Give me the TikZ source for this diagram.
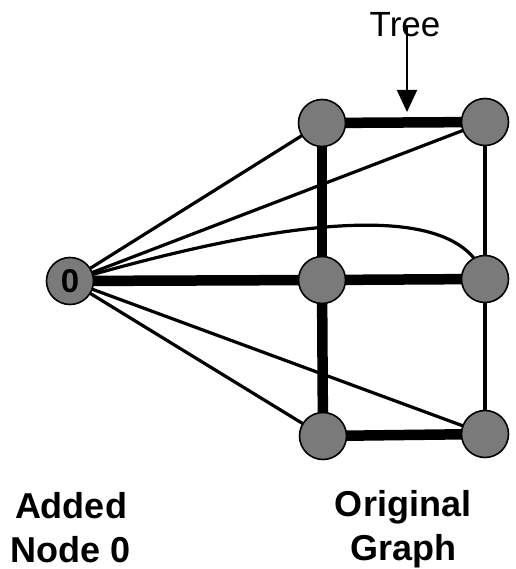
\documentclass[tikz,border=0pt]{standalone}
\usepackage{fontspec}
\setmainfont{Liberation Sans}
\usetikzlibrary{arrows.meta,backgrounds}
\begin{document}
\begin{tikzpicture}[x=1pt,y=-1pt,
  vertex/.style={circle,draw=black,line width=1.6pt,fill=black!52,
    minimum size=47pt,inner sep=0pt},
  treeedge/.style={line width=10.5pt},
  plainedge/.style={line width=3.2pt},
  caption/.style={font=\fontsize{36}{44}\selectfont\bfseries,align=center,anchor=base}]
\useasboundingbox (0,0) rectangle (515,569);

% vertices
\node[vertex] (n0) at (70,281) {\fontsize{33}{33}\selectfont\bfseries 0};
\node[vertex] (a) at (322,123) {};
\node[vertex] (b) at (485,122) {};
\node[vertex] (c) at (322,280) {};
\node[vertex] (d) at (485,279) {};
\node[vertex] (e) at (323,436) {};
\node[vertex] (f) at (485,434) {};

% edges, kept behind the vertices
\begin{scope}[on background layer]
  % spanning tree edges
  \draw[treeedge] (a.center) -- (b.center);
  \draw[treeedge] (a.center) -- (c.center);
  \draw[treeedge] (c.center) -- (e.center);
  \draw[treeedge] (n0.center) -- (c.center);
  \draw[treeedge] (c.center) -- (d.center);
  \draw[treeedge] (e.center) -- (f.center);
  % remaining edges of the original graph
  \draw[plainedge] (b.center) -- (d.center);
  \draw[plainedge] (d.center) -- (f.center);
  % edges from the added node
  \draw[plainedge] (n0.center) -- (a.center);
  \draw[plainedge] (n0.center) -- (b.center);
  \draw[plainedge] (n0.center) -- (e.center);
  \draw[plainedge] (n0.center) -- (f.center);
  \draw[plainedge] (n0.center) .. controls (280,220) and (460,195) .. (d.center);
\end{scope}

% labels
\node[font=\fontsize{35}{40}\selectfont,anchor=base] (treelbl) at (405,37) {Tree};
\coordinate (arrtop) at (407,27);
\coordinate (arrtip) at (407,112);
\draw[line width=2pt,-{Triangle[length=22pt,width=20pt]}] (arrtop) -- (arrtip);
\node[caption] (lblA) at (71,562) {Added\\Node 0};
\node[caption] (lblB) at (403,560) {Original\\Graph};
\end{tikzpicture}
\end{document}
